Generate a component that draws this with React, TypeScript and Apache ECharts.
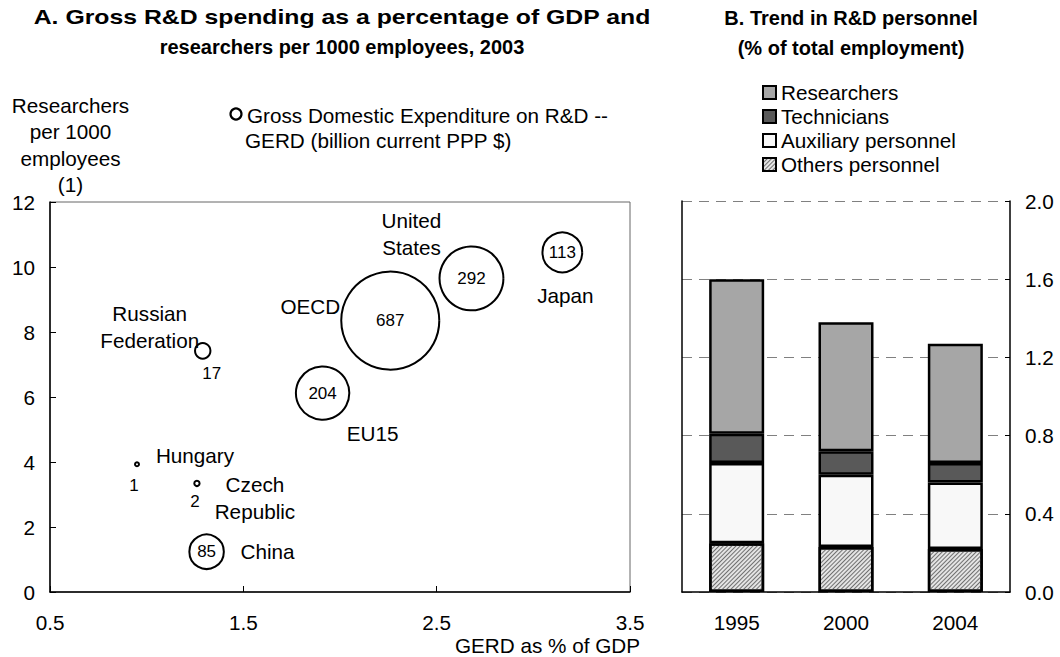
import React, { useEffect, useRef } from "react";
import * as echarts from "echarts";

// ---- Panel A data ----
const countries = ["Hungary", "Czech Republic", "China", "Russian Federation", "EU15", "OECD", "United States", "Japan"];
const gerdPctGdp = [0.95, 1.26, 1.31, 1.29, 1.91, 2.26, 2.68, 3.15];
const researchersPer1000 = [3.93, 3.34, 1.24, 7.42, 6.12, 8.35, 9.65, 10.45];
const gerdBillionPPP = [1, 2, 85, 17, 204, 687, 292, 113];
const xTicks = [0.5, 1.5, 2.5, 3.5];

// ---- Panel B data ----
const years = ["1995", "2000", "2004"];
const researchersShare = [0.79, 0.66, 0.61];
const techniciansShare = [0.15, 0.12, 0.1];
const auxiliaryShare = [0.41, 0.37, 0.34];
const othersShare = [0.25, 0.23, 0.22];

// ---- label placement (pixel offsets from bubble centre) ----
const nameOffsets: Record<string, [number, number]> = {
  Hungary: [58, -9],
  "Czech Republic": [58, 15],
  China: [61, 0],
  "Russian Federation": [-53, -24],
  EU15: [50, 40],
  OECD: [-80, -14],
  "United States": [-60, -44],
  Japan: [3, 43],
};
const valueOffsets: Record<string, [number, number]> = {
  Hungary: [-3, 21],
  "Czech Republic": [-2, 18],
  "Russian Federation": [9, 23],
};

const FONT = "'Liberation Sans', Arial, Helvetica, sans-serif";
const FS = 20.7;

export default function App() {
  const ref = useRef<HTMLDivElement>(null);

  useEffect(() => {
    if (!ref.current) return;
    const chart = echarts.init(ref.current, undefined, { renderer: "svg" });

    const bubbleData = countries.map((name, i) => ({
      name,
      value: [gerdPctGdp[i], researchersPer1000[i], gerdBillionPPP[i]],
      symbolSize: Math.max(3.74 * Math.sqrt(gerdBillionPPP[i]), 4),
      label: { offset: valueOffsets[name] || [0, 0] },
    }));

    const nameData = countries.map((name, i) => ({
      name,
      value: [gerdPctGdp[i], researchersPer1000[i]],
      label: { offset: nameOffsets[name] || [0, 0] },
    }));

    const barBase = {
      type: "bar",
      stack: "total",
      xAxisIndex: 1,
      yAxisIndex: 1,
      barWidth: 55,
      silent: true,
    };
    const border = { borderColor: "#000", borderWidth: 2.5 };
    const txt = (extra: any) => ({ fill: "#000", ...extra });

    chart.setOption({
      animation: false,
      textStyle: { fontFamily: FONT, color: "#000" },
      graphic: [
        {
          type: "text",
          x: 342,
          y: 17,
          scaleX: 1.24,
          style: txt({
            text: "A. Gross R&D spending as a percentage of GDP and",
            textAlign: "center",
            textVerticalAlign: "middle",
            font: `bold 20px ${FONT}`,
          }),
        },
        {
          type: "text",
          x: 342,
          y: 47,
          style: txt({
            text: "researchers per 1000 employees, 2003",
            textAlign: "center",
            textVerticalAlign: "middle",
            font: `bold 20px ${FONT}`,
          }),
        },
        {
          type: "text",
          x: 851,
          y: 3,
          style: txt({
            text: "B. Trend in R&D personnel\n(% of total employment)",
            textAlign: "center",
            textVerticalAlign: "top",
            font: `bold 20px ${FONT}`,
            lineHeight: 30,
          }),
        },
        {
          type: "text",
          x: 70.5,
          y: 92,
          style: txt({
            text: "Researchers\nper 1000\nemployees\n(1)",
            textAlign: "center",
            textVerticalAlign: "top",
            font: `${FS}px ${FONT}`,
            lineHeight: 26.5,
          }),
        },
        {
          type: "circle",
          shape: { cx: 236, cy: 114, r: 5.5 },
          style: { fill: "#fff", stroke: "#000", lineWidth: 2.2 },
        },
        {
          type: "text",
          x: 247,
          y: 115,
          style: txt({
            text: "Gross Domestic Expenditure on R&D --",
            textAlign: "left",
            textVerticalAlign: "middle",
            font: `${FS}px ${FONT}`,
          }),
        },
        {
          type: "text",
          x: 245,
          y: 140,
          style: txt({
            text: "GERD (billion current PPP $)",
            textAlign: "left",
            textVerticalAlign: "middle",
            font: `${FS}px ${FONT}`,
          }),
        },
        {
          type: "text",
          x: 640,
          y: 645,
          style: txt({
            text: "GERD as % of GDP",
            textAlign: "right",
            textVerticalAlign: "middle",
            font: `${FS}px ${FONT}`,
          }),
        },
      ],
      legend: {
        orient: "vertical",
        left: 757,
        top: 77,
        itemWidth: 13,
        itemHeight: 13,
        itemGap: 3,
        icon: "rect",
        data: ["Researchers", "Technicians", "Auxiliary personnel", "Others personnel"],
        textStyle: { fontSize: FS, color: "#000", fontFamily: FONT },
        selectedMode: false,
      },
      grid: [
        { left: 50, top: 202, width: 580, height: 390, show: true, borderColor: "#666", borderWidth: 1 },
        { left: 682, top: 201, width: 328, height: 391 },
      ],
      xAxis: [
        {
          type: "value",
          gridIndex: 0,
          min: xTicks[0],
          max: xTicks[xTicks.length - 1],
          interval: 1,
          axisLine: { show: true, lineStyle: { color: "#000", width: 1.5 } },
          axisTick: { show: true, inside: true, length: 6, lineStyle: { color: "#000" } },
          axisLabel: { fontSize: FS, color: "#000", margin: 20, formatter: (v: number) => v.toFixed(1) },
          splitLine: { show: false },
        },
        {
          type: "category",
          gridIndex: 1,
          data: years,
          axisLine: { show: true, lineStyle: { color: "#000", width: 1.5 } },
          axisTick: { show: false },
          axisLabel: { fontSize: FS, color: "#000", margin: 20 },
        },
      ],
      yAxis: [
        {
          type: "value",
          gridIndex: 0,
          min: 0,
          max: 12,
          interval: 2,
          axisLine: { show: true, lineStyle: { color: "#000", width: 1.5 } },
          axisTick: { show: true, inside: true, length: 6, lineStyle: { color: "#000" } },
          axisLabel: { fontSize: FS, color: "#000", margin: 15 },
          splitLine: { show: false },
        },
        {
          type: "value",
          gridIndex: 1,
          position: "right",
          min: 0,
          max: 2,
          interval: 0.4,
          axisLine: { show: true, lineStyle: { color: "#000", width: 1.5 } },
          axisTick: { show: true, inside: true, length: 5, lineStyle: { color: "#000" } },
          axisLabel: { fontSize: FS, color: "#000", margin: 15, formatter: (v: number) => v.toFixed(1) },
          splitLine: { show: true, lineStyle: { color: "#808080", type: [10, 7], width: 1 } },
        },
        {
          type: "value",
          gridIndex: 1,
          position: "left",
          min: 0,
          max: 2,
          interval: 0.4,
          axisLine: { show: true, lineStyle: { color: "#000", width: 1.5 } },
          axisTick: { show: false },
          axisLabel: { show: false },
          splitLine: { show: false },
        },
      ],
      series: [
        {
          type: "scatter",
          name: "GERD (billion current PPP $)",
          xAxisIndex: 0,
          yAxisIndex: 0,
          silent: true,
          data: bubbleData,
          itemStyle: { color: "#fff", borderColor: "#000", borderWidth: 2, opacity: 1 },
          label: {
            show: true,
            position: "inside",
            formatter: (p: any) => String(p.value[2]),
            fontSize: 17,
            color: "#000",
            textBorderWidth: 0,
            fontFamily: FONT,
          },
          z: 2,
        },
        {
          type: "scatter",
          name: "countries",
          xAxisIndex: 0,
          yAxisIndex: 0,
          silent: true,
          symbolSize: 0.1,
          data: nameData,
          itemStyle: { color: "#fff", opacity: 1 },
          label: {
            show: true,
            position: "inside",
            formatter: (p: any) => p.name.replace(" ", "\n"),
            fontSize: FS,
            lineHeight: 27,
            color: "#000",
            textBorderWidth: 0,
            align: "center",
            fontFamily: FONT,
          },
          z: 3,
        },
        {
          ...barBase,
          name: "Others personnel",
          data: othersShare,
          itemStyle: {
            ...border,
            color: "#e4e4e4",
            decal: {
              symbol: "rect",
              symbolSize: 1,
              dashArrayX: [[1, 0]],
              dashArrayY: [1, 2],
              rotation: -Math.PI / 4,
              color: "#707070",
            },
          },
        },
        { ...barBase, name: "Auxiliary personnel", data: auxiliaryShare, itemStyle: { ...border, color: "#f8f8f8" } },
        { ...barBase, name: "Technicians", data: techniciansShare, itemStyle: { ...border, color: "#595959" } },
        { ...barBase, name: "Researchers", data: researchersShare, itemStyle: { ...border, color: "#a6a6a6" } },
      ],
    });

    return () => chart.dispose();
  }, []);

  return <div ref={ref} style={{ position: "absolute", left: 0, top: 0, width: 1060, height: 657 }} />;
}
